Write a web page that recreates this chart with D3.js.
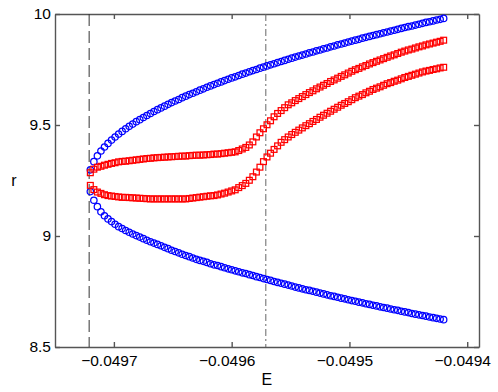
<!DOCTYPE html>
<html>
<head>
<meta charset="utf-8">
<script src="https://cdn.jsdelivr.net/npm/d3@7"></script>
<style>
  body { margin: 0; background: #fff; }
  text { font-family: "Liberation Sans", Arial, Helvetica, sans-serif; fill: #000; }
</style>
</head>
<body>
<script>

// energy grid (shared by all four branches)
var E = [
  -0.049720,-0.049717,-0.049714,-0.049711,-0.049708,-0.049705,-0.049702,-0.049699,-0.049696,-0.049693,
  -0.049690,-0.049687,-0.049684,-0.049681,-0.049678,-0.049675,-0.049672,-0.049669,-0.049666,-0.049663,
  -0.049660,-0.049657,-0.049654,-0.049651,-0.049648,-0.049645,-0.049642,-0.049639,-0.049636,-0.049633,
  -0.049630,-0.049627,-0.049624,-0.049621,-0.049618,-0.049615,-0.049612,-0.049609,-0.049606,-0.049603,
  -0.049600,-0.049597,-0.049594,-0.049591,-0.049588,-0.049585,-0.049582,-0.049579,-0.049576,-0.049573,
  -0.049570,-0.049567,-0.049564,-0.049561,-0.049558,-0.049555,-0.049552,-0.049549,-0.049546,-0.049543,
  -0.049540,-0.049537,-0.049534,-0.049531,-0.049528,-0.049525,-0.049522,-0.049519,-0.049516,-0.049513,
  -0.049510,-0.049507,-0.049504,-0.049501,-0.049498,-0.049495,-0.049492,-0.049489,-0.049486,-0.049483,
  -0.049480,-0.049477,-0.049474,-0.049471,-0.049468,-0.049465,-0.049462,-0.049459,-0.049456,-0.049453,
  -0.049450,-0.049447,-0.049444,-0.049441,-0.049438,-0.049435,-0.049432,-0.049429,-0.049426,-0.049423,
  -0.049420
]

// blue circles
var blueUpper = [
  9.298,9.335,9.361,9.383,9.401,9.417,9.432,9.446,9.459,9.471,
  9.483,9.494,9.504,9.515,9.524,9.534,9.543,9.552,9.561,9.569,
  9.577,9.585,9.593,9.601,9.608,9.615,9.623,9.630,9.637,9.643,
  9.650,9.657,9.663,9.670,9.676,9.682,9.688,9.694,9.700,9.706,
  9.712,9.717,9.723,9.729,9.734,9.740,9.745,9.750,9.756,9.761,
  9.766,9.771,9.776,9.781,9.786,9.791,9.796,9.801,9.806,9.811,
  9.815,9.820,9.825,9.829,9.834,9.838,9.843,9.847,9.852,9.856,
  9.861,9.865,9.869,9.874,9.878,9.882,9.886,9.891,9.895,9.899,
  9.903,9.907,9.911,9.915,9.919,9.923,9.927,9.931,9.935,9.939,
  9.943,9.946,9.950,9.954,9.958,9.962,9.965,9.969,9.973,9.976,
  9.980
]
var blueLower = [
  9.200,9.161,9.132,9.109,9.091,9.077,9.065,9.053,9.042,9.034,
  9.025,9.017,9.009,9.002,8.995,8.988,8.981,8.974,8.968,8.962,
  8.956,8.949,8.943,8.936,8.930,8.924,8.918,8.912,8.907,8.901,
  8.895,8.890,8.886,8.881,8.875,8.870,8.867,8.862,8.857,8.852,
  8.848,8.843,8.839,8.834,8.831,8.826,8.822,8.817,8.813,8.808,
  8.804,8.800,8.795,8.791,8.787,8.783,8.779,8.775,8.770,8.766,
  8.762,8.758,8.755,8.751,8.747,8.743,8.739,8.735,8.731,8.728,
  8.724,8.720,8.717,8.713,8.709,8.706,8.702,8.699,8.695,8.692,
  8.688,8.685,8.681,8.678,8.675,8.671,8.668,8.665,8.661,8.658,
  8.655,8.651,8.648,8.645,8.642,8.639,8.635,8.632,8.629,8.626,
  8.623
]

// red squares
var redUpper = [
  9.285,9.301,9.310,9.314,9.319,9.323,9.327,9.330,9.334,9.336,
  9.337,9.339,9.341,9.343,9.345,9.347,9.349,9.350,9.352,9.353,
  9.354,9.355,9.356,9.357,9.358,9.359,9.360,9.360,9.362,9.363,
  9.364,9.364,9.365,9.366,9.367,9.369,9.369,9.371,9.373,9.375,
  9.377,9.379,9.385,9.392,9.399,9.410,9.424,9.446,9.465,9.483,
  9.501,9.519,9.537,9.552,9.565,9.578,9.591,9.600,9.610,9.619,
  9.628,9.637,9.646,9.654,9.663,9.671,9.679,9.687,9.696,9.703,
  9.711,9.719,9.726,9.734,9.742,9.749,9.755,9.762,9.768,9.775,
  9.781,9.787,9.793,9.799,9.805,9.811,9.816,9.822,9.828,9.833,
  9.838,9.842,9.847,9.852,9.856,9.861,9.865,9.869,9.873,9.877,
  9.882
]
var redLower = [
  9.228,9.209,9.198,9.192,9.186,9.182,9.180,9.178,9.176,9.174,
  9.174,9.173,9.172,9.171,9.170,9.169,9.168,9.167,9.167,9.167,
  9.167,9.167,9.167,9.167,9.167,9.167,9.167,9.167,9.169,9.171,
  9.173,9.175,9.177,9.179,9.181,9.182,9.185,9.189,9.193,9.198,
  9.203,9.208,9.218,9.227,9.237,9.251,9.267,9.288,9.310,9.335,
  9.356,9.373,9.390,9.406,9.422,9.434,9.446,9.457,9.467,9.477,
  9.487,9.497,9.506,9.516,9.525,9.535,9.544,9.553,9.562,9.571,
  9.580,9.589,9.597,9.605,9.614,9.623,9.630,9.637,9.645,9.652,
  9.660,9.666,9.672,9.679,9.686,9.691,9.697,9.702,9.708,9.714,
  9.719,9.724,9.729,9.734,9.739,9.743,9.746,9.750,9.753,9.757,
  9.760
]

// vertical marker lines
var foldE = -0.049721
var markE = -0.049571

// ticks
var xTicks = [-0.0497, -0.0496, -0.0495, -0.0494]
var xTickLabels = ['\u22120.0497', '\u22120.0496', '\u22120.0495', '\u22120.0494']
var yTicks = [8.5, 9, 9.5, 10]
var yTickLabels = ['8.5', '9', '9.5', '10']

var margin = {top: 14, right: 19, bottom: 45, left: 55},
  width = 498 - margin.left - margin.right,
  height = 392 - margin.top - margin.bottom

var xScale = d3.scaleLinear().domain([-0.04975, -0.04939]).range([0, width])
var yScale = d3.scaleLinear().domain([8.5, 10]).range([height, 0])

var svg = d3.select('body').append('svg')
  .attr('width', 498)
  .attr('height', 392)
  .append('g')
  .attr('transform', 'translate(' + margin.left + ',' + margin.top + ')')

// axes (box with inward ticks on all four sides)
var axisColor = '#555'
var xAxis = d3.axisBottom(xScale).tickValues(xTicks).tickSizeInner(-5).tickSizeOuter(0)
  .tickPadding(8).tickFormat(function(d, i) { return xTickLabels[i] })
var yAxis = d3.axisLeft(yScale).tickValues(yTicks).tickSizeInner(-5).tickSizeOuter(0)
  .tickPadding(4).tickFormat(function(d, i) { return yTickLabels[i] })
var xTop = d3.axisTop(xScale).tickValues(xTicks).tickSizeInner(-5).tickSizeOuter(0).tickFormat('')
var yRight = d3.axisRight(yScale).tickValues(yTicks).tickSizeInner(-5).tickSizeOuter(0).tickFormat('')

svg.append('g').attr('class', 'x axis').attr('transform', 'translate(0,' + height + ')').call(xAxis)
svg.append('g').attr('class', 'y axis').call(yAxis)
svg.append('g').attr('class', 'axis').call(xTop)
svg.append('g').attr('class', 'axis').attr('transform', 'translate(' + width + ',0)').call(yRight)

svg.selectAll('.domain, .tick line').attr('stroke', axisColor).attr('stroke-width', 1.4)
svg.selectAll('.tick text').attr('font-size', '15.5px').attr('fill', '#000')
  .attr('font-family', '"Liberation Sans", Arial, sans-serif')
svg.selectAll('.x.axis .tick text').attr('dx', '-5')

// vertical lines
svg.append('line')
  .attr('x1', xScale(foldE)).attr('x2', xScale(foldE))
  .attr('y1', 0).attr('y2', height)
  .attr('stroke', '#333').attr('stroke-width', 1)
  .attr('stroke-dasharray', '12,5')

svg.append('line')
  .attr('x1', xScale(markE)).attr('x2', xScale(markE))
  .attr('y1', 0).attr('y2', height)
  .attr('stroke', '#666').attr('stroke-width', 1)
  .attr('stroke-dasharray', '7,3,2,3')

// markers
function circles(vals) {
  svg.append('g').selectAll('circle')
    .data(vals)
    .enter().append('circle')
    .attr('cx', function(d, i) { return xScale(E[i]) })
    .attr('cy', function(d) { return yScale(d) })
    .attr('r', 3.2)
    .attr('fill', 'none')
    .attr('stroke', '#0000ff')
    .attr('stroke-width', 1.25)
}
function squares(vals) {
  var s = 5.8
  svg.append('g').selectAll('rect')
    .data(vals)
    .enter().append('rect')
    .attr('x', function(d, i) { return xScale(E[i]) - s / 2 })
    .attr('y', function(d) { return yScale(d) - s / 2 })
    .attr('width', s)
    .attr('height', s)
    .attr('fill', 'none')
    .attr('stroke', '#ff0000')
    .attr('stroke-width', 1.25)
}

circles(blueUpper)
circles(blueLower)
squares(redUpper)
squares(redLower)

// axis labels
svg.append('text')
  .attr('x', xScale(markE) + 1)
  .attr('y', height + 38)
  .attr('text-anchor', 'middle')
  .attr('font-size', '16px')
  .text('E')

svg.append('text')
  .attr('x', -41)
  .attr('y', yScale(9.25))
  .attr('text-anchor', 'middle')
  .attr('dy', '0.32em')
  .attr('font-size', '16px')
  .text('r')

</script>
</body>
</html>
